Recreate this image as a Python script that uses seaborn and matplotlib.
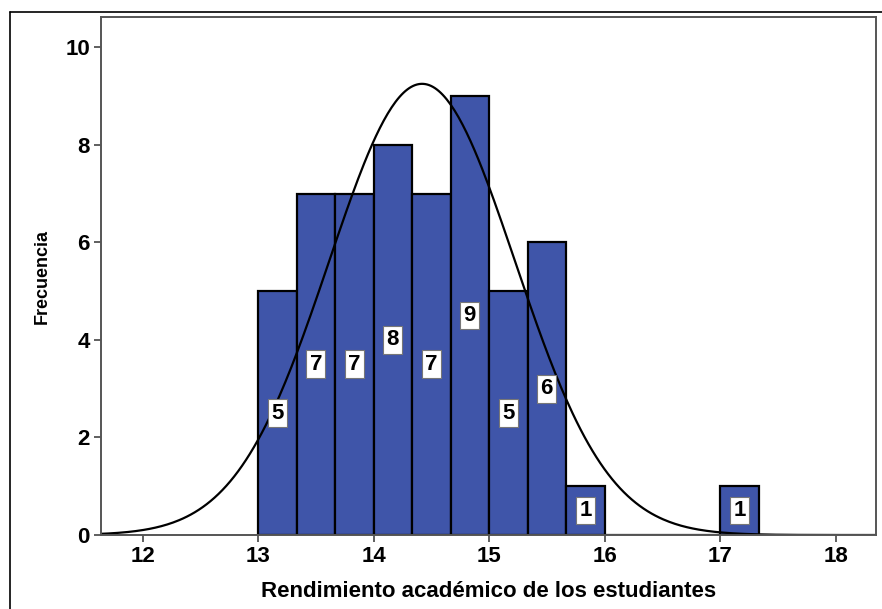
import numpy as np
import pandas as pd
import seaborn as sns
import matplotlib.pyplot as plt
from matplotlib.lines import Line2D

# Histogram bins (width 1/3)
bin_starts = [13.0, 13.333, 13.667, 14.0, 14.333, 14.667, 15.0, 15.333, 15.667,
              16.0, 16.333, 16.667, 17.0]
counts = [5, 7, 7, 8, 7, 9, 5, 6, 1, 0, 0, 0, 1]
bin_width = 1 / 3

# Normal curve parameters (SPSS fit)
mean_value = 14.42
sd_value = 0.805

x_ticks = [12, 13, 14, 15, 16, 17, 18]
y_ticks = [0, 2, 4, 6, 8, 10]


def main():
    sns.set_style("ticks")
    plt.rcParams['font.family'] = ['Liberation Sans', 'DejaVu Sans']
    plt.rcParams['text.color'] = 'black'
    plt.rcParams['axes.labelcolor'] = 'black'
    plt.rcParams['xtick.labelcolor'] = 'black'
    plt.rcParams['ytick.labelcolor'] = 'black'

    df = pd.DataFrame({"start": bin_starts, "count": counts})
    df["center"] = df["start"] + bin_width / 2
    edges = list(df["start"]) + [df["start"].iloc[-1] + bin_width]

    fig = plt.figure(figsize=(8.82, 6.09), dpi=100)
    ax = fig.add_axes([0.1145, 0.1215, 0.8787, 0.8505])

    sns.histplot(data=df, x="center", weights="count", bins=edges, ax=ax,
                 color="#3f55a9", alpha=1, edgecolor="black", linewidth=1.6)

    # normal curve scaled to counts
    n = sum(counts)
    xs = np.linspace(11.6, 18.4, 400)
    ys = n * bin_width * np.exp(-0.5 * ((xs - mean_value) / sd_value) ** 2) / (sd_value * np.sqrt(2 * np.pi))
    sns.lineplot(x=xs, y=ys, ax=ax, color="black", linewidth=1.6)

    # count labels at mid-height of each bar
    for _, row in df[df["count"] > 0].iterrows():
        ax.text(row["center"], row["count"] / 2, str(int(row["count"])),
                ha="center", va="center", fontsize=16, color="black",
                fontweight="semibold",
                bbox=dict(boxstyle="square,pad=0.15", facecolor="white",
                          edgecolor="#777777", linewidth=0.8))

    ax.set_xlim(11.64, 18.35)
    ax.set_ylim(0, 10.62)
    ax.set_xticks(x_ticks)
    ax.set_yticks(y_ticks)
    ax.tick_params(labelsize=16, length=5, width=1.2, color="#444444", pad=3)
    for lbl in ax.get_xticklabels() + ax.get_yticklabels():
        lbl.set_fontweight("bold")
    for sp in ax.spines.values():
        sp.set_visible(True)
        sp.set_color("#555555")
        sp.set_linewidth(1.4)

    ax.set_xlabel("Rendimiento académico de los estudiantes", fontsize=16,
                  fontweight="bold", labelpad=10)
    ax.set_ylabel("Frecuencia", fontsize=13, fontweight="bold", labelpad=10)

    # outer frame lines of the SPSS chart box
    fig.add_artist(Line2D([10 / 882, 1.0], [1 - 12 / 609, 1 - 12 / 609],
                          transform=fig.transFigure, color="black", linewidth=1.2))
    fig.add_artist(Line2D([10 / 882, 10 / 882], [0, 1 - 12 / 609],
                          transform=fig.transFigure, color="black", linewidth=1.2))

    fig.savefig("out.png", dpi=100)


if __name__ == "__main__":
    main()
